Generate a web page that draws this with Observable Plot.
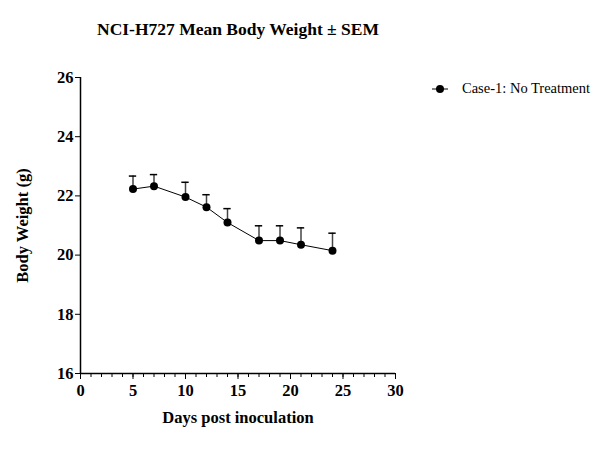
<!DOCTYPE html>
<html>
<head>
<meta charset="utf-8">
<script src="https://cdn.jsdelivr.net/npm/d3@7"></script>
<script src="https://cdn.jsdelivr.net/npm/@observablehq/plot@0.6"></script>
<style>
  html, body { margin: 0; padding: 0; background: #fff; }
  #wrap { position: relative; width: 605px; height: 464px; }
  #legend { position: absolute; left: 432px; top: 80px; display: flex; align-items: center;
            font-family: "Liberation Serif", "Times New Roman", serif; font-size: 14.5px; color: #000; }
  #legend svg { margin-right: 14px; }
</style>
</head>
<body>
<div id="wrap">
  <div id="chart"></div>
  <div id="legend"></div>
</div>
<script>
// Days post inoculation at which mice were weighed
const days = [5, 7, 10, 12, 14, 17, 19, 21, 24];
// Mean body weight (g) per day
const meanWeight = [22.23, 22.33, 21.96, 21.62, 21.10, 20.49, 20.49, 20.35, 20.15];
// Standard error of the mean (g)
const sem = [0.44, 0.39, 0.50, 0.42, 0.47, 0.50, 0.50, 0.57, 0.59];
const seriesName = "Case-1: No Treatment";
const xTicks = [0, 5, 10, 15, 20, 25, 30];
const xMinorTicks = d3.range(0, 31);
const yTicks = [16, 18, 20, 22, 24, 26];

const rows = days.map((d, i) => ({day: d, mean: meanWeight[i], sem: sem[i]}));

const serif = "Liberation Serif, Times New Roman, serif";
const capHalf = 0.35;

const chart = Plot.plot({
  width: 605,
  height: 464,
  marginLeft: 80,
  marginRight: 210,
  marginTop: 77,
  marginBottom: 91,
  style: {fontFamily: serif, background: "#fff", color: "#000"},
  x: {type: "linear", domain: [0, 30]},
  y: {type: "linear", domain: [16, 26]},
  marks: [
    // minor ticks every day, hanging below the axis
    Plot.axisX({ticks: xMinorTicks, tickSize: 4, tickFormat: () => "", label: null}),
    Plot.axisX({ticks: xTicks, tickSize: 6, tickPadding: 5, fontSize: 16.5, fontWeight: "bold", label: null}),
    Plot.axisY({ticks: yTicks, tickSize: 5, tickPadding: 2, fontSize: 16.5, fontWeight: "bold", label: null}),
    Plot.ruleX([0], {y1: 16, y2: 26, stroke: "#000", strokeWidth: 1.5}),
    Plot.ruleY([16], {x1: 0, x2: 30, stroke: "#000", strokeWidth: 1.5}),
    // upward SEM bars with caps
    Plot.ruleX(rows, {x: "day", y1: "mean", y2: d => d.mean + d.sem, stroke: "#444", strokeWidth: 1.5}),
    Plot.ruleY(rows, {y: d => d.mean + d.sem, x1: d => d.day - capHalf, x2: d => d.day + capHalf, stroke: "#000", strokeWidth: 1.5}),
    Plot.line(rows, {x: "day", y: "mean", stroke: "#000", strokeWidth: 1}),
    Plot.dot(rows, {x: "day", y: "mean", r: 4, fill: "#000", stroke: "none"}),
    // titles
    Plot.text(["NCI-H727 Mean Body Weight ± SEM"], {frameAnchor: "top", dy: -55, fontSize: 17.5, fontWeight: "bold"}),
    Plot.text(["Days post inoculation"], {frameAnchor: "bottom", dy: 49, fontSize: 16.5, fontWeight: "bold"}),
    Plot.text(["Body Weight (g)"], {frameAnchor: "left", textAnchor: "middle", dx: -58, rotate: -90, fontSize: 16.5, fontWeight: "bold"})
  ]
});
document.getElementById("chart").append(chart);

// legend entry: line segment with dot, then label
const leg = document.getElementById("legend");
leg.innerHTML = `<svg width="16" height="10"><line x1="0" y1="5" x2="16" y2="5" stroke="#000" stroke-width="1"/><circle cx="8" cy="5" r="4" fill="#000"/></svg><span>${seriesName}</span>`;
</script>
</body>
</html>
